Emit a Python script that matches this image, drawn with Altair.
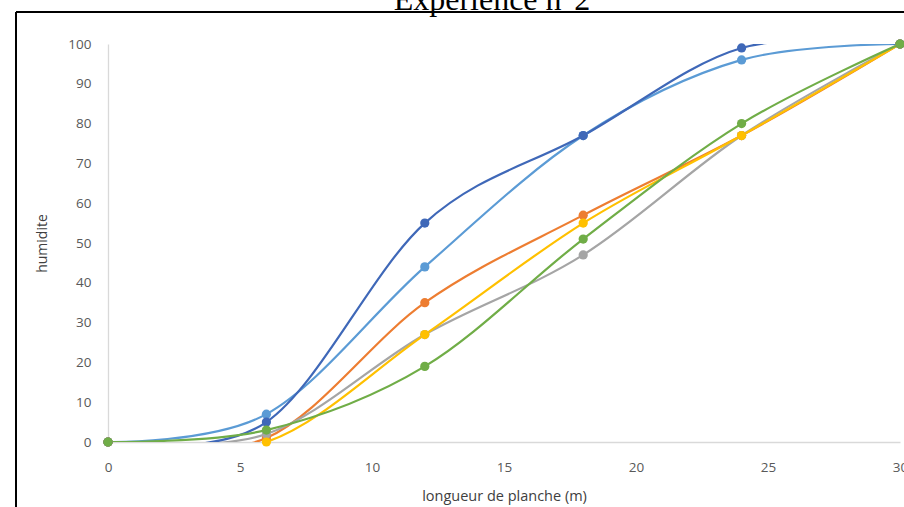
import altair as alt
import pandas as pd

# ---- data ----
longueur = [0, 6, 12, 18, 24, 30]
series_names = ["Série1", "Série2", "Série3", "Série4", "Série5", "Série6"]
serie1 = [0, 7, 44, 77, 96, 100]    # light blue
serie2 = [0, 1, 35, 57, 77, 100]    # orange
serie3 = [0, 2, 27, 47, 77, 100]    # gray
serie4 = [0, 0, 27, 55, 77, 100]    # yellow
serie5 = [0, 5, 55, 77, 99, 100]    # dark blue
serie6 = [0, 3, 19, 51, 80, 100]    # green
colors = ["#5B9BD5", "#ED7D31", "#A5A5A5", "#FFC000", "#3F68B8", "#70AD47"]
x_ticks = [0, 5, 10, 15, 20, 25, 30]
y_ticks = [0, 10, 20, 30, 40, 50, 60, 70, 80, 90, 100]
title_text = "Expérience n°2"

rows = []
for name, vals in zip(series_names, [serie1, serie2, serie3, serie4, serie5, serie6]):
    for xv, yv in zip(longueur, vals):
        rows.append({"serie": name, "longueur": xv, "humidite": yv})
df = pd.DataFrame(rows)

FONT = "Open Sans"
x_enc = alt.X("longueur:Q",
              scale=alt.Scale(domain=[0, 30], nice=False),
              axis=alt.Axis(values=x_ticks, title="longueur de planche (m)", grid=False,
                            ticks=False, domainColor="#D9D9D9", domainWidth=1.3,
                            labelFlush=False, labelOverlap=False,
                            labelColor="#595959", labelFont=FONT, labelFontSize=13.5,
                            labelPadding=18, titleColor="#404040", titleFont=FONT,
                            titleFontSize=14.5, titleFontWeight="normal", titlePadding=16))
y_enc = alt.Y("humidite:Q",
              scale=alt.Scale(domain=[0, 100], nice=False),
              axis=alt.Axis(values=y_ticks, title="humidite", grid=False, ticks=False,
                            domainColor="#D9D9D9", domainWidth=1.3,
                            labelFlush=False, labelOverlap=False,
                            labelColor="#595959", labelFont=FONT, labelFontSize=13.5,
                            labelPadding=17, titleColor="#404040", titleFont=FONT,
                            titleFontSize=14, titleFontWeight="normal", titlePadding=18))
color_enc = alt.Color("serie:N", scale=alt.Scale(domain=series_names, range=colors), legend=None)

base = alt.Chart(df)
lines = base.mark_line(interpolate="cardinal", tension=0, strokeWidth=2.2, clip=True).encode(
    x=x_enc, y=y_enc, color=color_enc, order=alt.Order("longueur:Q"))
points = base.mark_circle(size=85, opacity=1).encode(x=x_enc, y=y_enc, color=color_enc)

frame_v = alt.Chart(pd.DataFrame({"a": [0]})).mark_rule(color="black", strokeWidth=2).encode(
    x=alt.value(-92), y=alt.value(-32), y2=alt.value(480))
frame_h = alt.Chart(pd.DataFrame({"a": [0]})).mark_rule(color="black", strokeWidth=2).encode(
    x=alt.value(-92), x2=alt.value(820), y=alt.value(-32))
title = alt.Chart(pd.DataFrame({"t": [title_text]})).mark_text(
    font="Liberation Serif", fontSize=32, baseline="alphabetic", align="center", color="black"
).encode(text="t:N", x=alt.value(384), y=alt.value(-34))

chart = alt.layer(frame_v, frame_h, title, lines, points).properties(
    width=792, height=398,
    autosize=alt.AutoSizeParams(type="none"),
    padding={"left": 108, "top": 44, "right": 4, "bottom": 65},
    background="white",
).configure_view(stroke=None)

chart.save("out.html", embed_options={"renderer": "svg", "actions": False})
